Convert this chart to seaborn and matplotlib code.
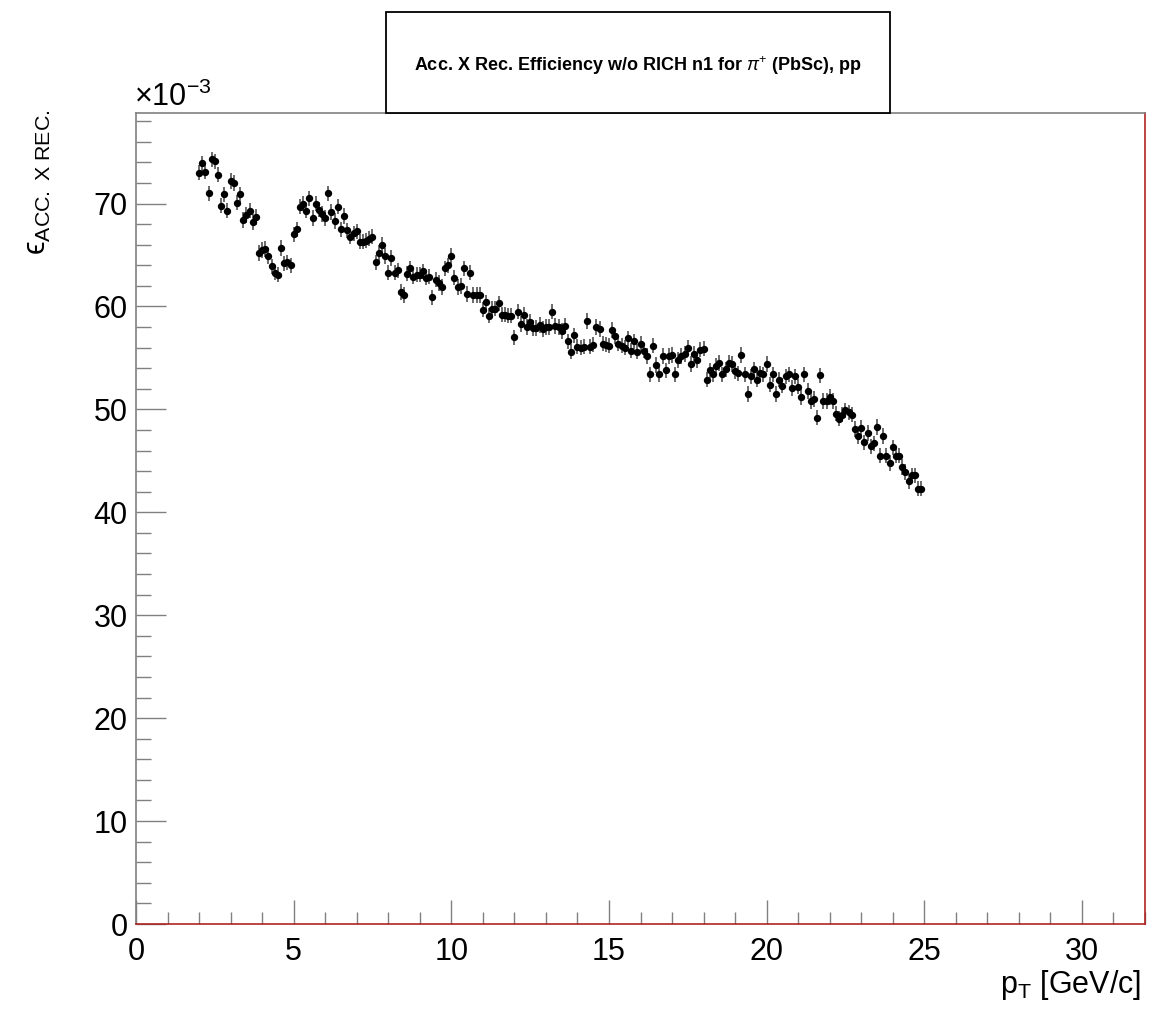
import numpy as np
import pandas as pd
import matplotlib
matplotlib.use("Agg")
import matplotlib.pyplot as plt
import seaborn as sns
from matplotlib.patches import Rectangle
from matplotlib.ticker import MultipleLocator

# ---- data (efficiency in units of 1e-3) ----
pt_first = 2.0
pt_bin = 0.1
eff = [
    73.0, 73.9, 73.1, 71.0, 74.3, 74.1, 72.8, 69.8, 70.9, 69.3,   # 2.0-2.9
    72.2, 72.0, 70.1, 70.9, 68.4, 68.9, 69.3, 68.2, 68.7, 65.2,   # 3.0-3.9
    65.5, 65.6, 64.9, 63.9, 63.3, 63.1, 65.7, 64.2, 64.3, 64.0,   # 4.0-4.9
    67.0, 67.5, 69.7, 70.0, 69.3, 70.5, 68.6, 70.0, 69.4, 69.0,   # 5.0-5.9
    68.6, 71.0, 69.2, 68.3, 69.7, 67.5, 68.8, 67.4, 66.8, 67.1,   # 6.0-6.9
    67.3, 66.3, 66.3, 66.4, 66.6, 66.8, 64.3, 65.2, 66.0, 64.9,   # 7.0-7.9
    63.3, 64.7, 63.3, 63.5, 61.4, 61.1, 63.2, 63.7, 62.9, 63.1,   # 8.0-8.9
    63.1, 63.4, 62.8, 62.9, 60.9, 62.6, 62.3, 61.9, 63.7, 64.0,   # 9.0-9.9
    64.9, 62.8, 61.9, 62.0, 63.7, 61.2, 63.3, 61.1, 61.1, 61.1,   # 10.0-10.9
    59.7, 60.4, 59.1, 59.8, 59.8, 60.3, 59.2, 59.2, 59.1, 59.1,   # 11.0-11.9
    57.0, 59.5, 58.3, 59.2, 58.0, 58.5, 57.9, 57.9, 58.2, 57.8,   # 12.0-12.9
    58.0, 58.0, 59.5, 58.1, 58.0, 57.6, 58.1, 56.6, 55.6, 57.2,   # 13.0-13.9
    56.1, 56.0, 56.1, 58.6, 56.1, 56.3, 58.0, 57.8, 56.4, 56.3,   # 14.0-14.9
    56.2, 57.7, 57.1, 56.4, 56.2, 56.0, 56.9, 55.7, 56.6, 55.6,   # 15.0-15.9
    56.4, 55.7, 55.2, 53.4, 56.2, 54.3, 53.4, 55.2, 53.8, 55.2,   # 16.0-16.9
    55.3, 53.4, 54.8, 55.2, 55.4, 56.0, 54.4, 55.4, 54.8, 55.8,   # 17.0-17.9
    55.9, 52.9, 53.8, 53.4, 54.2, 54.5, 53.4, 53.9, 54.5, 54.4,   # 18.0-18.9
    53.7, 53.5, 55.3, 53.4, 51.5, 53.2, 53.9, 52.9, 53.5, 53.4,   # 19.0-19.9
    54.4, 52.4, 53.4, 51.5, 52.9, 52.3, 53.2, 53.4, 52.1, 53.2,   # 20.0-20.9
    52.2, 51.2, 53.4, 51.8, 50.8, 51.0, 49.2, 53.3, 50.8, 50.8,   # 21.0-21.9
    51.2, 50.8, 49.6, 49.1, 49.5, 49.9, 49.7, 49.5, 48.1, 47.4,   # 22.0-22.9
    48.2, 46.8, 47.7, 46.4, 46.7, 48.3, 45.5, 47.4, 45.5, 44.8,   # 23.0-23.9
    46.3, 45.5, 45.5, 44.4, 43.9, 43.0, 43.6, 43.6, 42.3, 42.3,   # 24.0-24.9
]
eff_err = 0.75

pt = np.round(pt_first + pt_bin * np.arange(len(eff)), 2)
df = pd.DataFrame({"pt": pt, "eff": eff})

title_text = "Acc. X Rec. Efficiency w/o RICH n1 for $\\pi^{+}$ (PbSc), pp"
x_label = "p$_{\\mathregular{T}}$ [GeV/c]"
y_label = "\u03f5$_{\\mathregular{ACC.\\ X\\ REC.}}$"
scale_label = "$\\times$10$^{\\mathregular{-3}}$"

# ---- style ----
sns.set_theme(style="white")
plt.rcParams["font.family"] = ["Liberation Sans", "DejaVu Sans"]
plt.rcParams["text.color"] = "black"
plt.rcParams["mathtext.fontset"] = "custom"
plt.rcParams["mathtext.rm"] = "Liberation Sans"
plt.rcParams["mathtext.it"] = "Liberation Sans:italic"
plt.rcParams["mathtext.bf"] = "Liberation Sans:bold"

W, H = 1170, 1010
fig = plt.figure(figsize=(W / 100, H / 100), dpi=100)
ax = fig.add_axes([136 / W, 1 - 924 / H, (1145 - 136) / W, (924 - 113) / H])

ax.errorbar(df["pt"], df["eff"], yerr=eff_err, xerr=pt_bin / 2, fmt="none",
            ecolor="#6a6a6a", elinewidth=1.4, capsize=0, zorder=2)
sns.scatterplot(data=df, x="pt", y="eff", ax=ax, color="black", s=28,
                edgecolor="black", linewidth=0, zorder=3, legend=False)

ax.set_xlim(0, 32)
ax.set_ylim(0, 78.8)
ax.xaxis.set_major_locator(MultipleLocator(5))
ax.xaxis.set_minor_locator(MultipleLocator(1))
ax.yaxis.set_major_locator(MultipleLocator(10))
ax.yaxis.set_minor_locator(MultipleLocator(2))
ax.set_xlabel("")
ax.set_ylabel("")

ax.tick_params(axis="both", which="both", direction="in", color="#808080",
               width=1.0, labelsize=22, labelcolor="black",
               bottom=True, left=True, top=False, right=False)
ax.tick_params(axis="x", which="major", length=17, pad=9)
ax.tick_params(axis="x", which="minor", length=8.5)
ax.tick_params(axis="y", which="major", length=21.5, pad=6)
ax.tick_params(axis="y", which="minor", length=11)

for side, col in [("left", "#808080"), ("top", "#808080"),
                  ("bottom", "#b22222"), ("right", "#b22222")]:
    ax.spines[side].set_visible(True)
    ax.spines[side].set_color(col)
    ax.spines[side].set_linewidth(1.2)

# title box
fig.patches.append(Rectangle((386 / W, 1 - 113 / H), (890 - 386) / W, (113 - 12) / H,
                             transform=fig.transFigure, facecolor="white",
                             edgecolor="black", linewidth=1.3, zorder=5))
fig.text(638 / W, 1 - 66 / H, title_text, ha="center", va="center",
         fontsize=13, fontweight="bold", color="black", zorder=6)

fig.text(134 / W, 1 - 106 / H, scale_label, ha="left", va="baseline",
         fontsize=22, color="black")
fig.text(1141 / W, 1 - 985 / H, x_label, ha="right", va="center",
         fontsize=22, color="black")
fig.text(38 / W, 1 - 110 / H, y_label, ha="center", va="top", rotation=90,
         fontsize=22, color="black")

fig.savefig("out.png", dpi=100, facecolor="white")
